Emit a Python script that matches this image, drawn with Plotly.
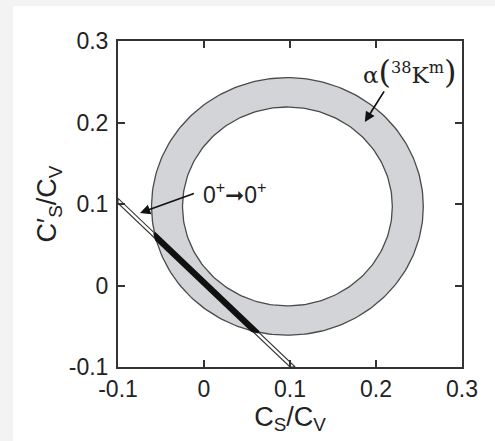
import numpy as np
import plotly.graph_objects as go

# ---- data ----
ring_center = [0.097, 0.097]          # centre of the alpha(38K^m) annulus (Cs/Cv, C's/Cv)
ring_r_outer = 0.158
ring_r_inner = 0.122
band_upper = {"x": [-0.10, 0.106], "y": [0.107, -0.100]}   # 0+ -> 0+ band, upper edge
band_lower = {"x": [-0.10, 0.100], "y": [0.101, -0.100]}   # 0+ -> 0+ band, lower edge
tick_vals = [-0.1, 0.0, 0.1, 0.2, 0.3]
tick_text = ["-0.1", "0", "0.1", "0.2", "0.3"]
axis_range = [-0.1, 0.3]

FONT = "Liberation Sans, Arial, Helvetica, sans-serif"

def circle(c, r, n=240):
    t = np.linspace(0, 2 * np.pi, n)
    return c[0] + r * np.cos(t), c[1] + r * np.sin(t)

ox, oy = circle(ring_center, ring_r_outer)
ix, iy = circle(ring_center, ring_r_inner)

fig = go.Figure()
fig.add_trace(go.Scatter(x=ox, y=oy, mode="lines", fill="toself",
                         fillcolor="#d3d4d7", line=dict(color="#4a4a4a", width=1.3),
                         hoverinfo="skip"))
fig.add_trace(go.Scatter(x=ix, y=iy, mode="lines", fill="toself",
                         fillcolor="#ffffff", line=dict(color="#4a4a4a", width=1.3),
                         hoverinfo="skip"))

# band polygon (white with thin outline)
bx = band_upper["x"] + band_lower["x"][::-1] + [band_upper["x"][0]]
by = band_upper["y"] + band_lower["y"][::-1] + [band_upper["y"][0]]
fig.add_trace(go.Scatter(x=bx, y=by, mode="lines", fill="toself", fillcolor="#ffffff",
                         line=dict(color="#333333", width=1.1), hoverinfo="skip"))

# black part: band inside the outer circle
def line_circle_hits(p, c, r):
    x0, y0 = p["x"][0], p["y"][0]
    dx, dy = p["x"][1] - x0, p["y"][1] - y0
    fx, fy = x0 - c[0], y0 - c[1]
    a = dx * dx + dy * dy
    b = 2 * (fx * dx + fy * dy)
    cc = fx * fx + fy * fy - r * r
    disc = np.sqrt(b * b - 4 * a * cc)
    ts = sorted([(-b - disc) / (2 * a), (-b + disc) / (2 * a)])
    return [(x0 + t * dx, y0 + t * dy) for t in ts]

hu = line_circle_hits(band_upper, ring_center, ring_r_outer)
hl = line_circle_hits(band_lower, ring_center, ring_r_outer)
kx = [hu[0][0], hu[1][0], hl[1][0], hl[0][0], hu[0][0]]
ky = [hu[0][1], hu[1][1], hl[1][1], hl[0][1], hu[0][1]]
fig.add_trace(go.Scatter(x=kx, y=ky, mode="lines", fill="toself", fillcolor="#111111",
                         line=dict(color="#111111", width=2.6), hoverinfo="skip"))

axis_common = dict(range=axis_range, tickvals=tick_vals, ticktext=tick_text,
                   showgrid=False, zeroline=False, showline=True, linecolor="#333333",
                   linewidth=2, mirror="ticks", ticks="inside", ticklen=7, tickwidth=2,
                   tickcolor="#333333", tickfont=dict(family=FONT, size=23, color="#222222"))

fig.update_xaxes(**axis_common,
                 title=dict(text="C<sub>S</sub>/C<sub>V</sub>",
                            font=dict(family=FONT, size=27, color="#222222"), standoff=0))
fig.update_yaxes(**axis_common, ticklabelstandoff=3,
                 title=dict(text="C′<sub>S</sub>/C<sub>V</sub>",
                            font=dict(family=FONT, size=27, color="#222222"), standoff=4))

annotations = [
    dict(x=0.2395, y=0.262, xref="x", yref="y", showarrow=False,
         text="α<span style='font-size:32px'>(</span><sup>38</sup>K<sup>m</sup><span style='font-size:32px'>)</span>",
         font=dict(family="DejaVu Serif, serif", size=23, color="#222222")),
    dict(x=0.187, y=0.2006, ax=0.2105, ay=0.240, xref="x", yref="y", axref="x", ayref="y",
         text="", showarrow=True, arrowhead=2, arrowsize=1.2, arrowwidth=1.7, arrowcolor="#111111"),
    dict(x=0.035, y=0.1135, xref="x", yref="y", showarrow=False,
         text="0<sup>+</sup>➞0<sup>+</sup>", font=dict(family=FONT, size=23, color="#222222")),
    dict(x=-0.0744, y=0.089, ax=-0.010, ay=0.1135, xref="x", yref="y", axref="x", ayref="y",
         text="", showarrow=True, arrowhead=2, arrowsize=1.2, arrowwidth=1.7, arrowcolor="#111111"),
]

fig.update_layout(
    width=495, height=441,
    margin=dict(l=118, r=33, t=41, b=74),
    paper_bgcolor="#f3f3f3", plot_bgcolor="#ffffff",
    showlegend=False, annotations=annotations,
    shapes=[dict(type="rect", xref="paper", yref="paper", x0=-0.305, x1=1.3,
                 y0=-0.4, y1=1.107, fillcolor="#ffffff", line=dict(width=0), layer="below")],
)

fig.write_html("out.html")
